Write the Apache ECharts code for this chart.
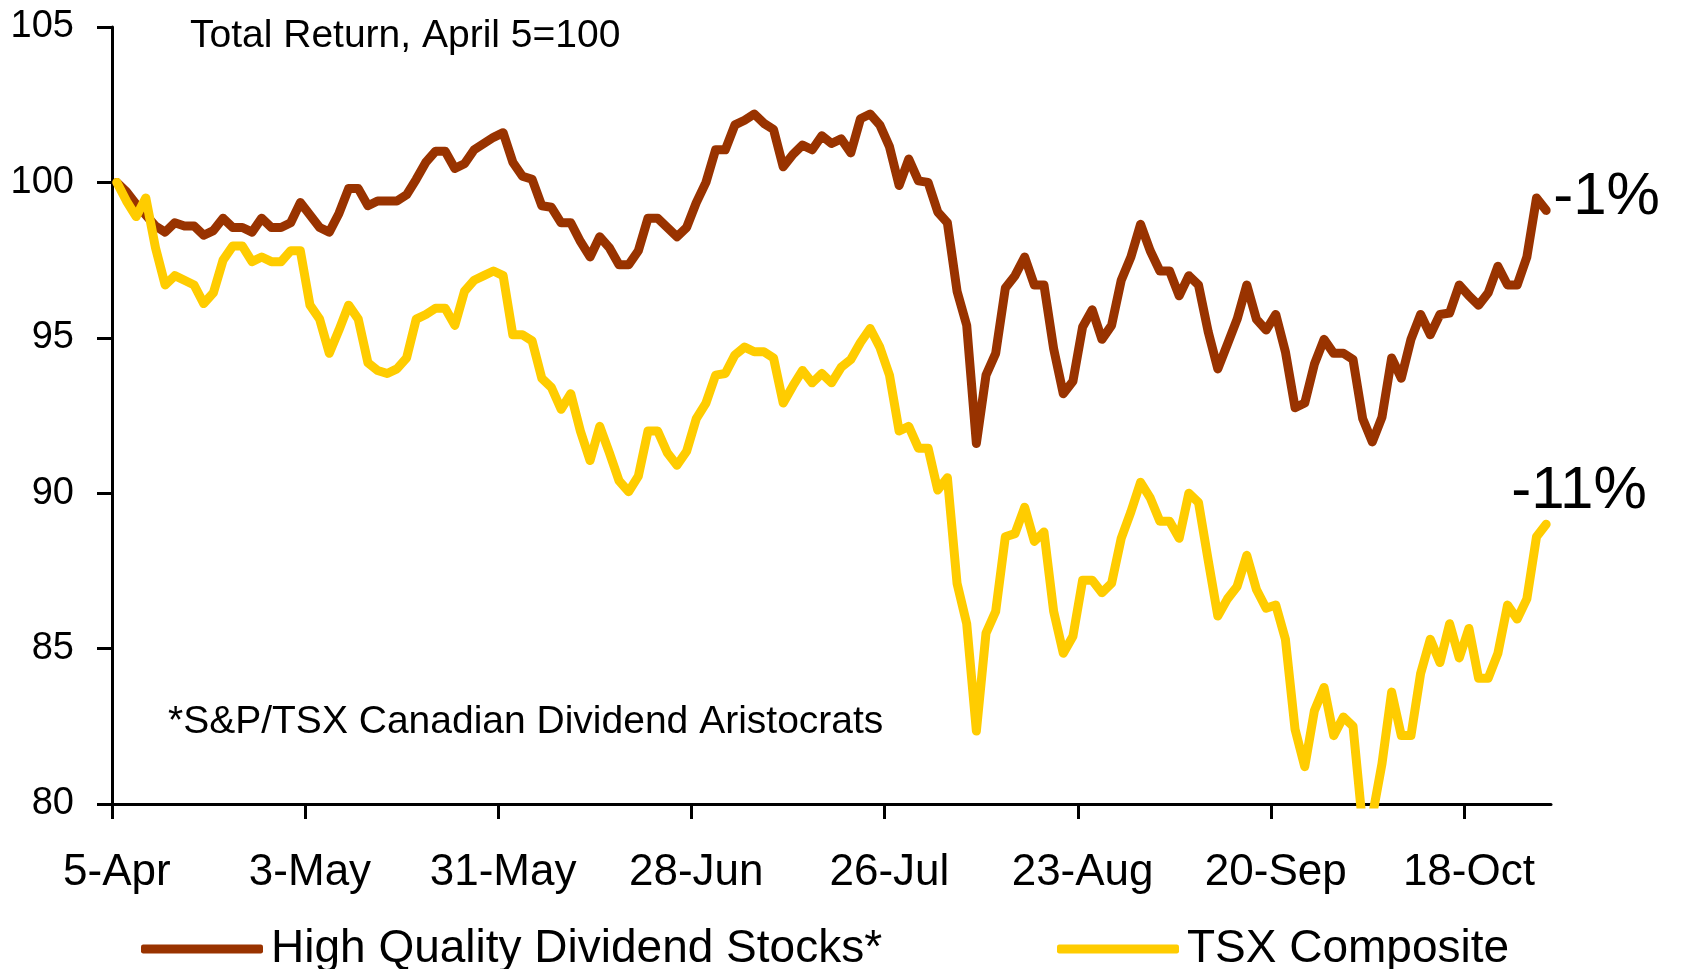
<!DOCTYPE html>
<html>
<head>
<meta charset="utf-8">
<script src="https://cdn.jsdelivr.net/npm/echarts@6/dist/echarts.min.js"></script>
<style>
html,body{margin:0;padding:0;background:#fff;}
#c{width:1687px;height:969px;}
</style>
</head>
<body>
<div id="c"></div>
<script>
// Trading days (weekdays) from 5-Apr to 28-Oct
const dates = [
'5-Apr','6-Apr','7-Apr','8-Apr','11-Apr','12-Apr','13-Apr','14-Apr','15-Apr','18-Apr','19-Apr','20-Apr','21-Apr','22-Apr','25-Apr','26-Apr','27-Apr','28-Apr','29-Apr',
'2-May','3-May','4-May','5-May','6-May','9-May','10-May','11-May','12-May','13-May','16-May','17-May','18-May','19-May','20-May','23-May','24-May','25-May','26-May','27-May','30-May','31-May',
'1-Jun','2-Jun','3-Jun','6-Jun','7-Jun','8-Jun','9-Jun','10-Jun','13-Jun','14-Jun','15-Jun','16-Jun','17-Jun','20-Jun','21-Jun','22-Jun','23-Jun','24-Jun','27-Jun','28-Jun','29-Jun','30-Jun',
'1-Jul','4-Jul','5-Jul','6-Jul','7-Jul','8-Jul','11-Jul','12-Jul','13-Jul','14-Jul','15-Jul','18-Jul','19-Jul','20-Jul','21-Jul','22-Jul','25-Jul','26-Jul','27-Jul','28-Jul','29-Jul',
'1-Aug','2-Aug','3-Aug','4-Aug','5-Aug','8-Aug','9-Aug','10-Aug','11-Aug','12-Aug','15-Aug','16-Aug','17-Aug','18-Aug','19-Aug','22-Aug','23-Aug','24-Aug','25-Aug','26-Aug','29-Aug','30-Aug','31-Aug',
'1-Sep','2-Sep','5-Sep','6-Sep','7-Sep','8-Sep','9-Sep','12-Sep','13-Sep','14-Sep','15-Sep','16-Sep','19-Sep','20-Sep','21-Sep','22-Sep','23-Sep','26-Sep','27-Sep','28-Sep','29-Sep','30-Sep',
'3-Oct','4-Oct','5-Oct','6-Oct','7-Oct','10-Oct','11-Oct','12-Oct','13-Oct','14-Oct','17-Oct','18-Oct','19-Oct','20-Oct','21-Oct','24-Oct','25-Oct','26-Oct','27-Oct','28-Oct'
];

// Labelled x ticks
const tickLabels = ['5-Apr','3-May','31-May','28-Jun','26-Jul','23-Aug','20-Sep','18-Oct'];

// High Quality Dividend Stocks* (total return, April 5 = 100)
const dividendStocks = [
100.0,99.7,99.3,98.95,98.6,98.4,98.7,98.6,98.6,98.3,
98.45,98.85,98.55,98.55,98.4,98.85,98.55,98.55,98.7,99.35,
98.95,98.55,98.4,99.0,99.8,99.8,99.25,99.4,99.4,99.4,
99.6,100.1,100.65,101.0,101.0,100.45,100.6,101.05,101.25,101.45,
101.6,100.65,100.2,100.1,99.25,99.2,98.7,98.7,98.1,97.6,
98.25,97.9,97.35,97.35,97.8,98.85,98.85,98.55,98.25,98.55,
99.35,100.0,101.05,101.05,101.85,102.0,102.2,101.9,101.7,100.5,
100.9,101.2,101.05,101.5,101.25,101.4,100.95,102.05,102.2,101.85,
101.15,99.9,100.75,100.05,100.0,99.05,98.7,96.5,95.4,91.6,
93.8,94.5,96.6,97.0,97.6,96.7,96.7,94.65,93.2,93.6,
95.35,95.9,94.95,95.4,96.85,97.6,98.65,97.8,97.15,97.15,
96.35,97.0,96.7,95.2,94.0,94.8,95.6,96.7,95.6,95.25,
95.75,94.55,92.75,92.9,94.15,94.95,94.5,94.5,94.3,92.4,
91.65,92.45,94.35,93.7,94.95,95.75,95.1,95.75,95.8,96.7,
96.35,96.05,96.45,97.3,96.7,96.7,97.6,99.5,99.1
];

// TSX Composite (total return, April 5 = 100)
const tsxComposite = [
100.0,99.4,98.9,99.5,97.9,96.7,97.0,96.85,96.7,96.1,
96.45,97.5,97.95,97.95,97.45,97.6,97.45,97.45,97.8,97.8,
96.05,95.6,94.5,95.25,96.05,95.6,94.2,93.95,93.85,94.0,
94.35,95.6,95.75,95.95,95.95,95.4,96.5,96.85,97.0,97.15,
97.0,95.1,95.1,94.9,93.7,93.4,92.7,93.2,92.0,91.05,
92.15,91.3,90.4,90.05,90.55,92.0,92.0,91.3,90.9,91.35,
92.4,92.9,93.8,93.85,94.45,94.7,94.55,94.55,94.35,92.9,
93.45,93.95,93.55,93.85,93.55,94.05,94.3,94.85,95.3,94.7,
93.8,92.0,92.15,91.45,91.45,90.1,90.5,87.1,85.8,82.35,
85.5,86.2,88.6,88.7,89.55,88.45,88.75,86.2,84.85,85.4,
87.2,87.2,86.8,87.1,88.55,89.4,90.35,89.85,89.1,89.1,
88.55,90.0,89.7,87.85,86.05,86.6,87.0,88.0,86.9,86.3,
86.4,85.3,82.4,81.2,83.0,83.75,82.2,82.8,82.5,79.3,
79.6,81.3,83.6,82.2,82.2,84.2,85.3,84.55,85.8,84.7,
85.65,84.05,84.05,84.85,86.4,85.95,86.6,88.6,89.0
];

const seriesNames = ['High Quality Dividend Stocks*', 'TSX Composite'];
const yMin = 80, yMax = 105, yStep = 5;

const FONT = '"Liberation Sans", Arial, sans-serif';
const chart = echarts.init(document.getElementById('c'), null, {renderer: 'canvas'});
const pct = p => Math.round(p.value - 100) + '%';
const tickIdx = tickLabels.map(t => dates.indexOf(t));

chart.setOption({
  animation: false,
  backgroundColor: '#ffffff',
  textStyle: {fontFamily: FONT, color: '#000'},
  title: [
    {text: 'Total Return, April 5=100', left: 185, top: 12,
     textStyle: {fontFamily: FONT, fontSize: 39, fontWeight: 'normal', color: '#000'}},
    {text: '*S&P/TSX Canadian Dividend Aristocrats', left: 163, top: 698,
     textStyle: {fontFamily: FONT, fontSize: 39, fontWeight: 'normal', color: '#000'}}
  ],
  legend: [
    {data: [seriesNames[0]], left: 136, top: 921, icon: 'roundRect', itemWidth: 122, itemHeight: 9, itemGap: 8,
     textStyle: {fontFamily: FONT, fontSize: 46, color: '#000', padding: [0, 0, 0, 3]}},
    {data: [seriesNames[1]], left: 1052, top: 921, icon: 'roundRect', itemWidth: 122, itemHeight: 9,
     textStyle: {fontFamily: FONT, fontSize: 46, color: '#000', padding: [0, 0, 0, 3]}}
  ],
  grid: {left: 112, right: 136, top: 27, bottom: 165, containLabel: false},
  xAxis: [
    {
      type: 'category',
      data: dates,
      boundaryGap: true,
      axisLine: {show: true, lineStyle: {color: '#000', width: 3}},
      axisTick: {show: false},
      axisLabel: {interval: (i, v) => tickLabels.indexOf(v) >= 0, margin: 47, fontFamily: FONT, fontSize: 44, color: '#000'},
      splitLine: {show: false}
    },
    {
      type: 'value',
      position: 'bottom',
      min: 0, max: dates.length,
      axisLine: {show: false},
      axisLabel: {show: false},
      splitLine: {show: false},
      axisTick: {show: true, length: 15, customValues: tickIdx, lineStyle: {color: '#000', width: 3}}
    }
  ],
  yAxis: {
    type: 'value',
    min: yMin, max: yMax, interval: yStep,
    axisLine: {show: true, lineStyle: {color: '#000', width: 3}},
    axisTick: {show: true, length: 15, lineStyle: {color: '#000', width: 3}},
    axisLabel: {margin: 38, fontFamily: FONT, fontSize: 38, color: '#000'},
    splitLine: {show: false}
  },
  series: [
    {name: seriesNames[0], type: 'line', data: dividendStocks, symbol: 'none',
     color: '#993300',
     lineStyle: {width: 9, color: '#993300', cap: 'round', join: 'round'},
     endLabel: {show: true, formatter: pct, fontFamily: FONT, fontSize: 60, color: '#000',
                distance: 5, offset: [2, -13]}},
    {name: seriesNames[1], type: 'line', data: tsxComposite, symbol: 'none',
     color: '#FFCC00',
     lineStyle: {width: 9, color: '#FFCC00', cap: 'round', join: 'round'},
     endLabel: {show: true, formatter: pct, fontFamily: FONT, fontSize: 60, color: '#000',
                distance: 5, offset: [-40, -33]}}
  ]
});
</script>
</body>
</html>
